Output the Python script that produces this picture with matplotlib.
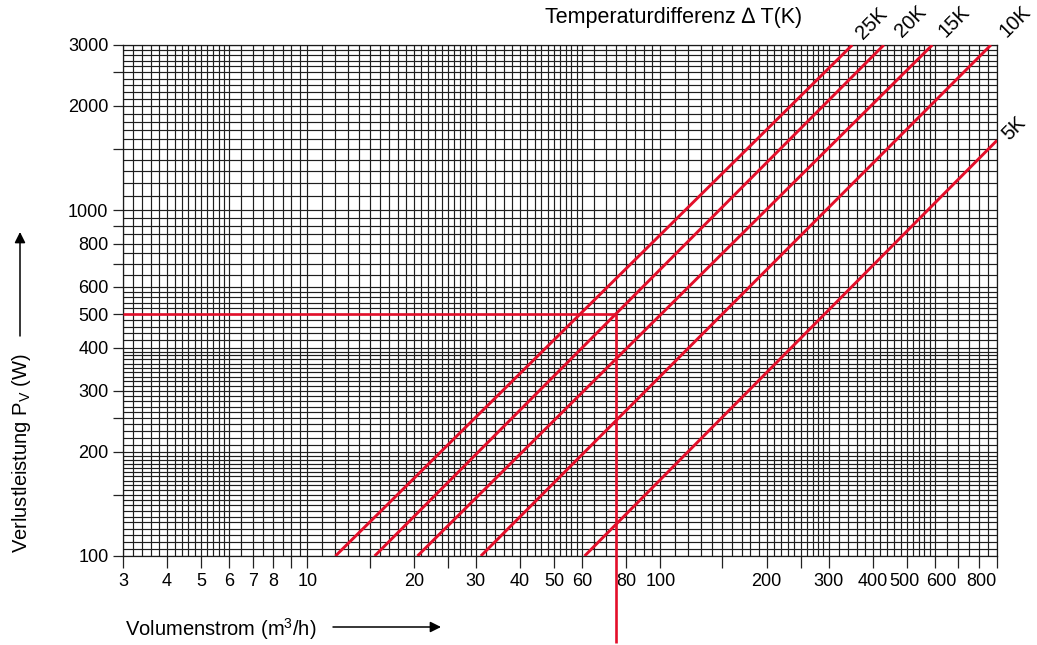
import numpy as np
import matplotlib
matplotlib.use("Agg")
import matplotlib.pyplot as plt
import matplotlib.transforms as mtransforms
from matplotlib.ticker import FixedLocator, NullFormatter, FixedFormatter

plt.rcParams['font.family'] = ['Liberation Sans', 'DejaVu Sans']
plt.rcParams['mathtext.fontset'] = 'custom'
plt.rcParams['mathtext.rm'] = 'Liberation Sans'
TICK_FS = 13
LABEL_FS = 14.5

# --- data -------------------------------------------------------------
delta_t_labels = ['25K', '20K', '15K', '10K', '5K']
line_x_start = [12.0, 15.5, 20.5, 31.0, 61.0]      # m3/h at the lower end
line_y_start = [100, 100, 100, 100, 100]            # W
line_x_end = [350, 430, 590, 865, 900]              # m3/h at the upper end
line_y_end = [3000, 3000, 3000, 3000, 1590]         # W

example_flow = 75        # m3/h (read-off example)
example_power = 500      # W

x_ticks = [3, 4, 5, 6, 7, 8, 9, 10, 15, 20, 25, 30, 40, 50, 60, 80, 100,
           150, 200, 250, 300, 400, 500, 600, 700, 800, 900]
x_tick_labels = ['3', '4', '5', '6', '7', '8', '', '10', '', '20', '', '30',
                 '40', '50', '60', '80', '100', '', '200', '', '300', '400',
                 '500', '600', '', '800', '']
y_ticks = [100, 150, 200, 250, 300, 400, 500, 600, 700, 800, 900, 1000,
           1500, 2000, 2500, 3000]
y_tick_labels = ['100', '', '200', '', '300', '400', '500', '600', '', '800',
                 '', '1000', '', '2000', '', '3000']

# grid subdivision of the log paper (segment start, end, step)
x_grid_segments = [(3, 6, 0.2), (6, 10, 0.5), (10, 30, 1), (30, 60, 2),
                   (60, 100, 5), (100, 300, 10), (300, 600, 20), (600, 900, 50)]
y_grid_segments = [(100, 200, 5), (200, 400, 10), (400, 600, 20),
                   (600, 1000, 50), (1000, 3000, 100)]


def grid_positions(segments):
    vals = []
    for a, b, s in segments:
        n = int(round((b - a) / s))
        vals.extend([a + i * s for i in range(n + 1)])
    return sorted(set(round(v, 6) for v in vals))


W, H = 1037, 645
fig = plt.figure(figsize=(W / 100, H / 100), dpi=100)
ax = fig.add_axes([123 / W, 1 - 556 / H, (997 - 123) / W, (556 - 45) / H])
ax.set_xscale('log')
ax.set_yscale('log')
ax.set_xlim(3, 900)
ax.set_ylim(100, 3000)

ax.xaxis.set_major_locator(FixedLocator(x_ticks))
ax.xaxis.set_major_formatter(FixedFormatter(x_tick_labels))
ax.xaxis.set_minor_locator(FixedLocator(grid_positions(x_grid_segments)))
ax.xaxis.set_minor_formatter(NullFormatter())
ax.yaxis.set_major_locator(FixedLocator(y_ticks))
ax.yaxis.set_major_formatter(FixedFormatter(y_tick_labels))
ax.yaxis.set_minor_locator(FixedLocator(grid_positions(y_grid_segments)))
ax.yaxis.set_minor_formatter(NullFormatter())

ax.tick_params(axis='x', which='major', length=8.5, width=0.9, pad=4,
               labelsize=TICK_FS, color='#222222')
ax.tick_params(axis='y', which='major', length=7.5, width=0.9, pad=3,
               labelsize=TICK_FS, color='#222222')
ax.tick_params(which='minor', length=0)
ax.grid(True, which='both', color='#1e1e1e', linewidth=0.85)
ax.set_axisbelow(True)
for sp in ax.spines.values():
    sp.set_color('#1a1a1a')
    sp.set_linewidth(0.9)

# nudge crowded x labels like in the original
fig.canvas.draw()
nudges = {'500': -2, '600': 6, '800': 2}
for lab in ax.get_xticklabels():
    dx = nudges.get(lab.get_text())
    if dx:
        lab.set_transform(lab.get_transform() +
                          mtransforms.ScaledTranslation(dx / 100, 0,
                                                        fig.dpi_scale_trans))

red = '#e30f2a'
for xs, ys, xe, ye in zip(line_x_start, line_y_start, line_x_end, line_y_end):
    ax.plot([xs, xe], [ys, ye], color=red, lw=2.1, solid_capstyle='butt',
            zorder=3)

label_offsets = [(19, 21), (27, 23), (22, 23), (24, 23), (17, 12)]
for xe, ye, lab, off in zip(line_x_end, line_y_end, delta_t_labels,
                            label_offsets):
    ax.annotate(lab, xy=(xe, ye), xytext=off, textcoords='offset pixels',
                rotation=45, ha='center', va='center', fontsize=LABEL_FS,
                annotation_clip=False)

# read-off example
ax.plot([3, example_flow], [example_power, example_power], color=red, lw=1.9,
        zorder=3, solid_capstyle='butt')
ax.plot([example_flow, example_flow], [example_power, 56], color=red, lw=1.9,
        zorder=3, clip_on=False, solid_capstyle='butt')

# titles / axis labels
fig.text(545 / W, 1 - 17 / H, 'Temperaturdifferenz \u2206 T(K)', fontsize=15.5,
         ha='left', va='center')
fig.text(22 / W, 1 - 453 / H, r'Verlustleistung P$_\mathregular{V}$ (W)',
         rotation=90, fontsize=LABEL_FS, ha='center', va='center')
fig.text(125 / W, 1 - 629 / H, r'Volumenstrom (m$^\mathregular{3}$/h)',
         fontsize=LABEL_FS, ha='left', va='center')

ax.annotate('', xy=(20 / W, 1 - 232 / H), xytext=(20 / W, 1 - 336 / H),
            xycoords='figure fraction', textcoords='figure fraction',
            arrowprops=dict(arrowstyle='-|>', color='black', lw=1.1,
                            mutation_scale=16, shrinkA=0, shrinkB=0))
ax.annotate('', xy=(441 / W, 1 - 627 / H), xytext=(333 / W, 1 - 627 / H),
            xycoords='figure fraction', textcoords='figure fraction',
            arrowprops=dict(arrowstyle='-|>', color='black', lw=1.1,
                            mutation_scale=16, shrinkA=0, shrinkB=0))

fig.savefig('out.png', dpi=100)
